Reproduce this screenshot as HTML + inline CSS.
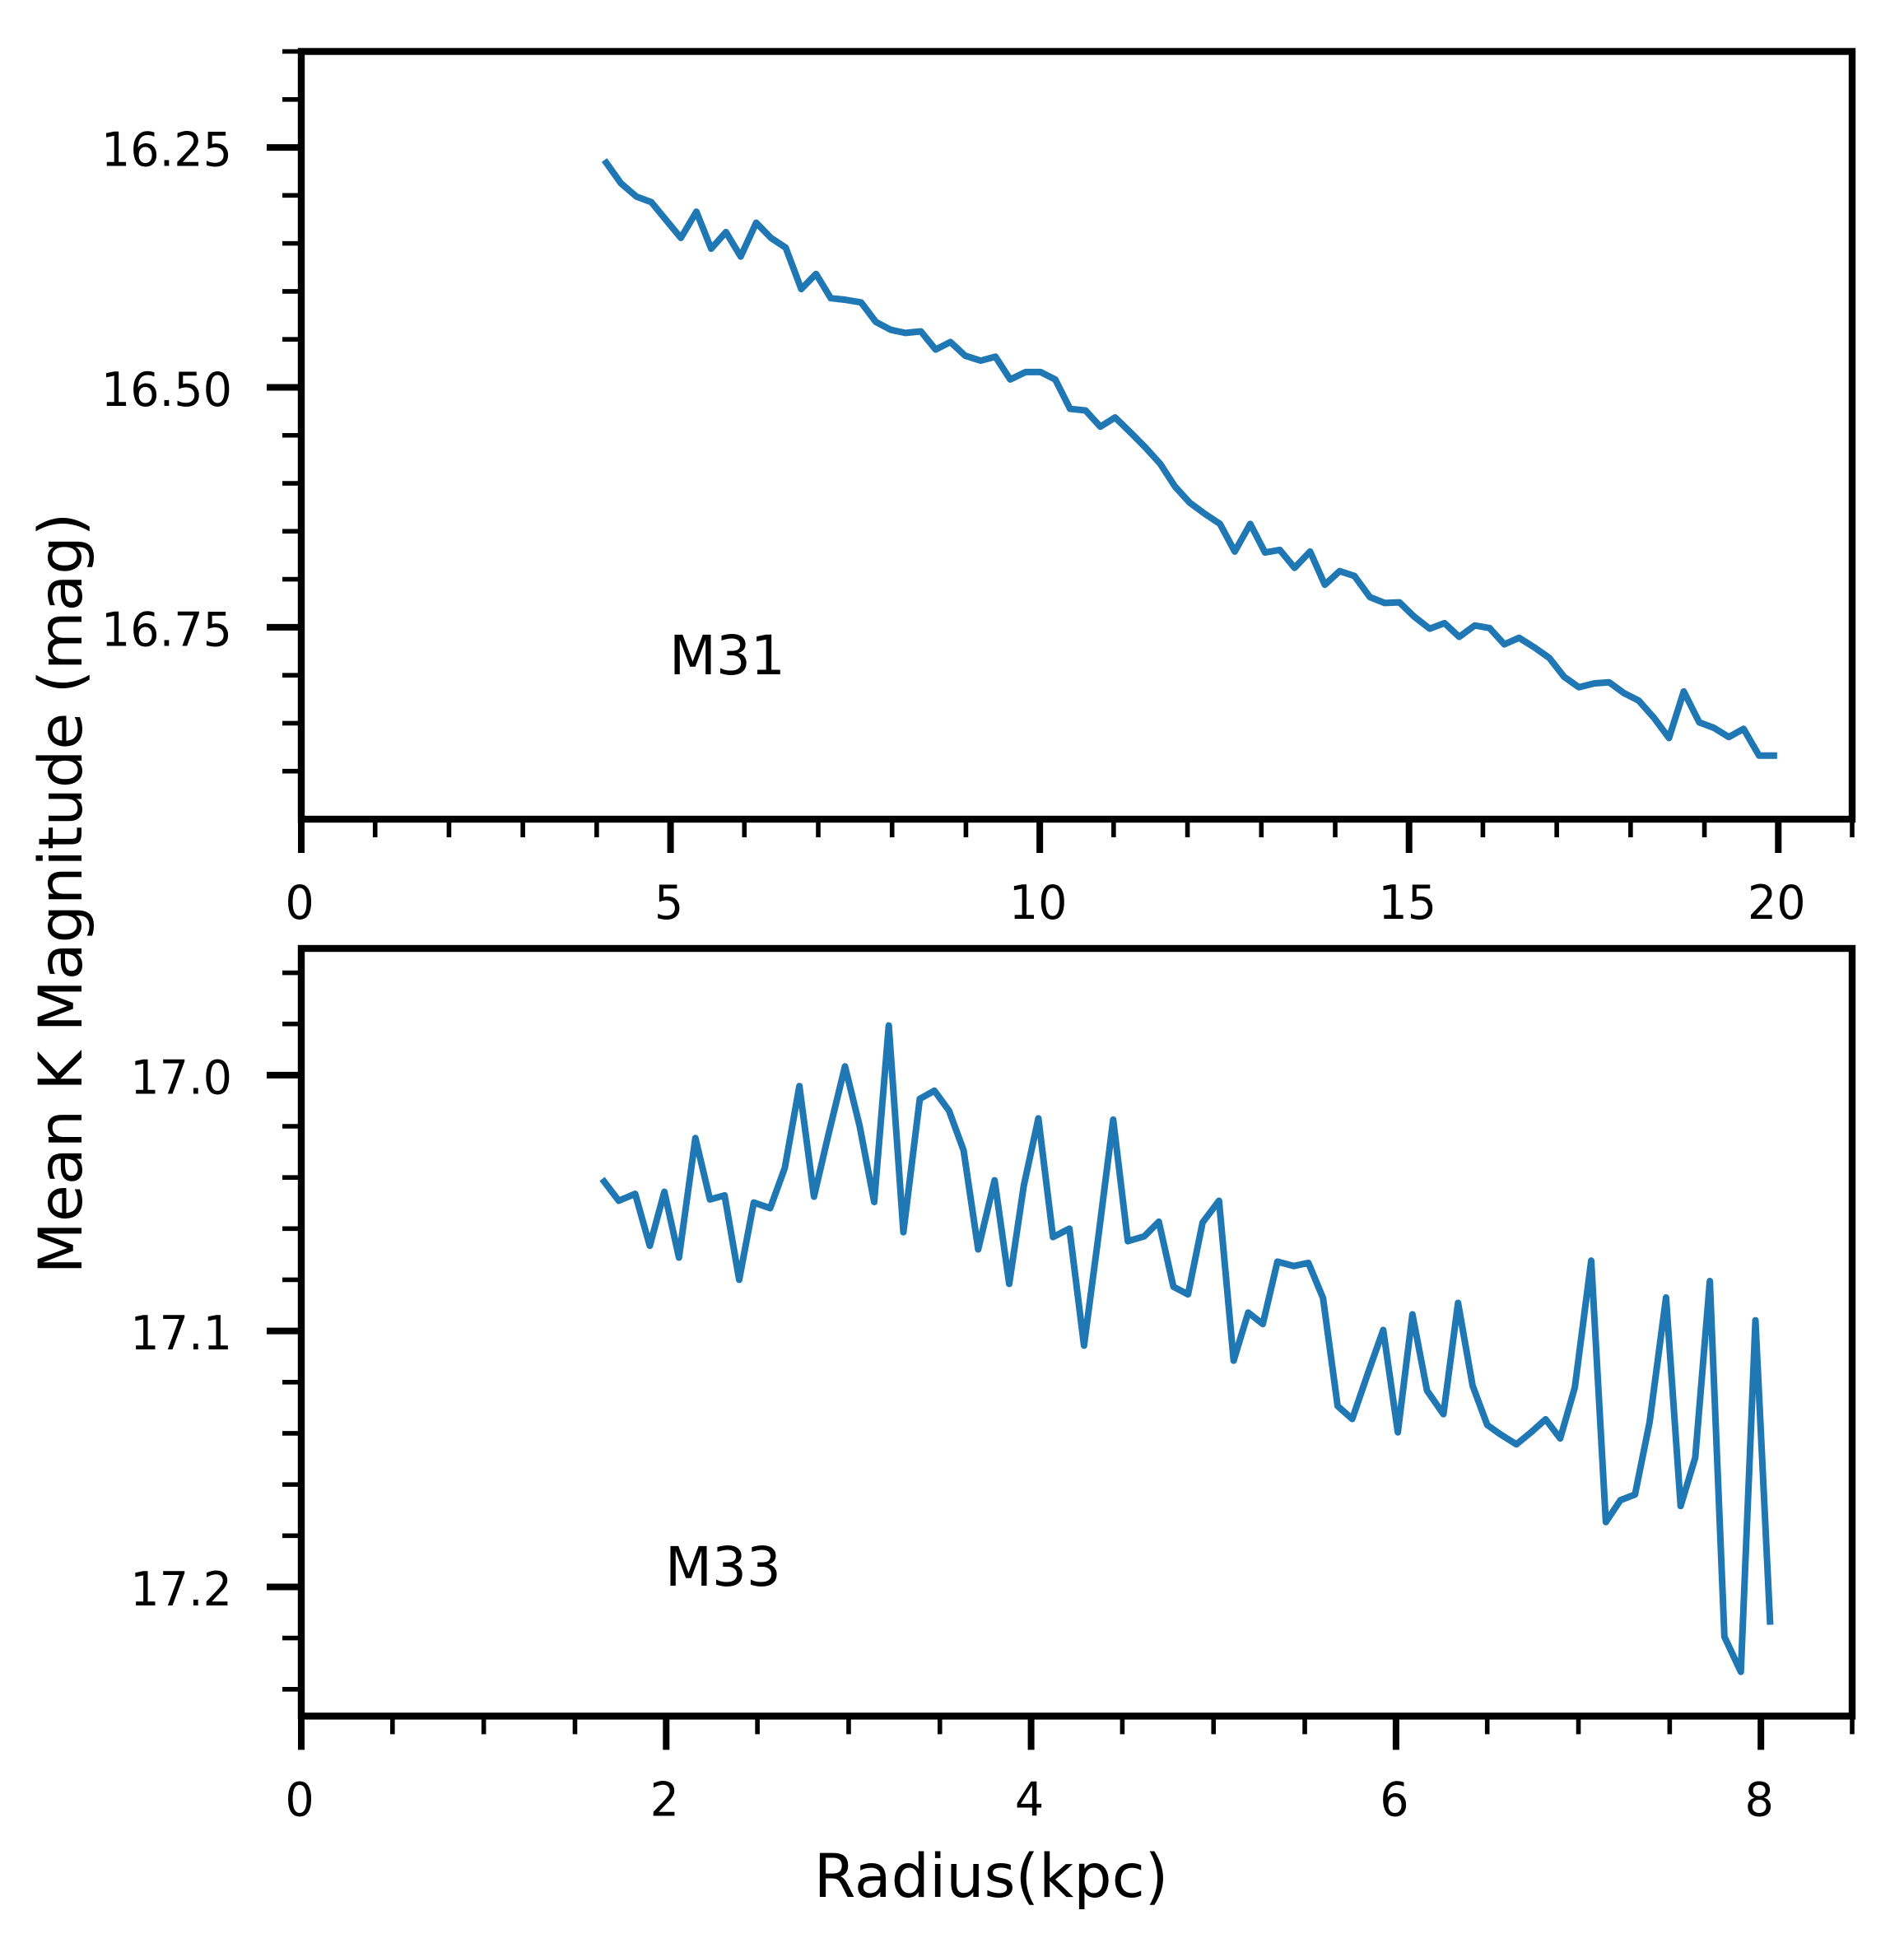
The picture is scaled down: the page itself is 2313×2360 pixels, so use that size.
<!DOCTYPE html>
<html lang="en">
<head>
<meta charset="utf-8">
<title>Mean K Magnitude vs Radius for M31 and M33</title>
<style>
  html, body { margin: 0; padding: 0; background: #ffffff; }
  svg { display: block; }
  text { font-family: "DejaVu Sans", "Liberation Sans", sans-serif; fill: #000000; }
</style>
</head>
<body>
<svg id="chart" xmlns="http://www.w3.org/2000/svg" width="2313" height="2360" viewBox="0 0 2313 2360">
  <rect x="0" y="0" width="2313" height="2360" fill="#ffffff"/>
  <g id="m31-panel"></g>
  <g id="m33-panel"></g>
  <text x="813" y="819" font-size="66">M31</text>
  <text x="808" y="1926" font-size="66">M33</text>
  <text x="99" y="1085" font-size="73.2" text-anchor="middle" transform="rotate(-90 99 1085)">Mean K Magnitude (mag)</text>
  <text x="1204" y="2304" font-size="73" text-anchor="middle">Radius(kpc)</text>
</svg>
<script>
// M31 data
const m31Radius = [4.13,4.33,4.54,4.74,4.94,5.14,5.35,5.55,5.75,5.95,
  6.16,6.36,6.56,6.77,6.97,7.17,7.37,7.58,7.78,7.98,
  8.18,8.39,8.59,8.79,8.99,9.20,9.40,9.60,9.81,10.01,
  10.21,10.41,10.62,10.82,11.02,11.22,11.43,11.63,11.83,12.03,
  12.24,12.44,12.64,12.85,13.05,13.25,13.45,13.66,13.86,14.06,
  14.26,14.47,14.67,14.87,15.07,15.28,15.48,15.68,15.89,16.09,
  16.29,16.49,16.70,16.90,17.10,17.30,17.51,17.71,17.91,18.11,
  18.32,18.52,18.72,18.93,19.13,19.33,19.53,19.74,19.94];
const m31Magnitude = [16.266,16.2875,16.3013,16.307,16.3257,16.3443,16.317,16.3555,16.3382,16.3637,
  16.3285,16.3443,16.3545,16.3976,16.3818,16.4071,16.4088,16.4115,16.4318,16.44,
  16.4433,16.4417,16.4606,16.4528,16.4671,16.4722,16.4681,16.4918,16.484,16.484,
  16.4918,16.5224,16.5241,16.541,16.5314,16.5463,16.5626,16.5796,16.6033,16.6202,
  16.6321,16.6423,16.6711,16.6423,16.6721,16.6694,16.6881,16.6711,16.7057,16.6915,
  16.6965,16.7186,16.7247,16.724,16.7389,16.7515,16.7457,16.76,16.7481,16.7508,
  16.7678,16.761,16.7711,16.782,16.8017,16.8125,16.8084,16.8074,16.8186,16.8264,
  16.8447,16.8654,16.8169,16.8491,16.8549,16.8644,16.8559,16.8837,16.8837];
const m31XMajor = [0,5,10,15,20];
const m31XMinor = [1,2,3,4,6,7,8,9,11,12,13,14,16,17,18,19,21];
const m31YMajor = [16.25,16.50,16.75];
const m31YMajorLabels = ["16.25","16.50","16.75"];
const m31YMinor = [16.15,16.20,16.30,16.35,16.40,16.45,16.55,16.60,16.65,16.70,16.80,16.85,16.90];

// M33 data
const m33Radius = [1.66,1.74,1.83,1.91,1.99,2.07,2.16,2.24,2.32,2.40,
  2.48,2.57,2.65,2.73,2.81,2.89,2.98,3.06,3.14,3.22,
  3.30,3.39,3.47,3.55,3.63,3.71,3.80,3.88,3.96,4.04,
  4.12,4.21,4.29,4.37,4.45,4.53,4.62,4.70,4.78,4.86,
  4.94,5.03,5.11,5.19,5.27,5.35,5.44,5.52,5.60,5.68,
  5.76,5.85,5.93,6.01,6.09,6.17,6.26,6.34,6.42,6.50,
  6.57,6.66,6.74,6.82,6.90,6.98,7.07,7.15,7.23,7.31,
  7.39,7.48,7.56,7.64,7.72,7.80,7.89,7.97,8.05];
const m33Magnitude = [17.0416,17.0491,17.0464,17.0667,17.0456,17.0713,17.0246,17.0486,17.047,17.08,
  17.0498,17.052,17.0363,17.0043,17.0475,17.023,16.9966,17.0198,17.0496,16.9806,
  17.0614,17.0093,17.0061,17.0139,17.0294,17.0681,17.0411,17.0816,17.0432,17.0169,
  17.0633,17.06,17.1057,17.0624,17.0174,17.0649,17.063,17.0573,17.0827,17.0857,
  17.0576,17.0491,17.1116,17.0928,17.0973,17.0729,17.0746,17.0734,17.0871,17.1293,
  17.1344,17.1157,17.0996,17.1396,17.0935,17.1233,17.1325,17.089,17.1214,17.1367,
  17.1403,17.1443,17.1396,17.1345,17.142,17.1221,17.0725,17.1747,17.1661,17.1639,
  17.1356,17.0869,17.1684,17.1495,17.0805,17.2195,17.2332,17.0958,17.2135];
const m33XMajor = [0,2,4,6,8];
const m33XMinor = [0.5,1,1.5,2.5,3,3.5,4.5,5,5.5,6.5,7,7.5,8.5];
const m33YMajor = [17.0,17.1,17.2];
const m33YMajorLabels = ["17.0","17.1","17.2"];
const m33YMinor = [16.96,16.98,17.02,17.04,17.06,17.08,17.12,17.14,17.16,17.18,17.22,17.24];

const SVG_NS = "http://www.w3.org/2000/svg";
const plotLeft = 366;
const plotRight = 2250;

function makeTick(parent, x1, y1, x2, y2, width, name) {
  const el = document.createElementNS(SVG_NS, "line");
  el.setAttribute("x1", x1);
  el.setAttribute("y1", y1);
  el.setAttribute("x2", x2);
  el.setAttribute("y2", y2);
  el.setAttribute("stroke", "#000000");
  el.setAttribute("stroke-width", width);
  
  
  parent.appendChild(el);
}

function makeLabel(parent, x, y, text, anchor, name) {
  const el = document.createElementNS(SVG_NS, "text");
  el.setAttribute("x", 0);
  el.setAttribute("y", 0);
  el.setAttribute("transform", "translate(" + x + " " + y + ") scale(0.975 1)");
  el.setAttribute("font-size", "57");
  el.setAttribute("text-anchor", anchor);
  el.textContent = text;
  
  
  parent.appendChild(el);
}

function drawPanel(parent, prefix, top, bottom, xMax, yTop, yBottom, radius, magnitude,
                   xMajor, xMinor, yMajor, yMajorLabels, yMinor) {
  const xScale = v => plotLeft + (v / xMax) * (plotRight - plotLeft);
  const yScale = v => top + ((v - yTop) / (yBottom - yTop)) * (bottom - top);

  // data line
  const line = document.createElementNS(SVG_NS, "polyline");
  line.setAttribute("points", radius.map((r, i) => xScale(r).toFixed(2) + "," + yScale(magnitude[i]).toFixed(2)).join(" "));
  line.setAttribute("fill", "none");
  line.setAttribute("stroke", "#1f77b4");
  line.setAttribute("stroke-width", "8");
  line.setAttribute("stroke-linejoin", "round");
  line.setAttribute("stroke-linecap", "square");
  
  
  parent.appendChild(line);

  // frame
  const frame = document.createElementNS(SVG_NS, "rect");
  frame.setAttribute("x", plotLeft);
  frame.setAttribute("y", top);
  frame.setAttribute("width", plotRight - plotLeft);
  frame.setAttribute("height", bottom - top);
  frame.setAttribute("fill", "none");
  frame.setAttribute("stroke", "#000000");
  frame.setAttribute("stroke-width", "8.4");
  
  
  parent.appendChild(frame);

  // x ticks
  xMajor.forEach(v => {
    makeTick(parent, xScale(v), bottom, xScale(v), bottom + 41, 8, prefix + '-x-major-tick');
    makeLabel(parent, xScale(v) - 2, bottom + 121, String(v), "middle", prefix + '-x-tick-label');
  });
  xMinor.forEach(v => {
    makeTick(parent, xScale(v), bottom, xScale(v), bottom + 22, 5.6, prefix + '-x-minor-tick');
  });

  // y ticks
  yMajor.forEach((v, i) => {
    makeTick(parent, plotLeft - 42, yScale(v), plotLeft, yScale(v), 8, prefix + '-y-major-tick');
    makeLabel(parent, 282, yScale(v) + 22.5, yMajorLabels[i], "end", prefix + '-y-tick-label');
  });
  yMinor.forEach(v => {
    makeTick(parent, plotLeft - 23, yScale(v), plotLeft, yScale(v), 5.6, prefix + '-y-minor-tick');
  });
}

drawPanel(document.getElementById("m31-panel"), "m31", 62.5, 995, 21, 16.15, 16.95,
  m31Radius, m31Magnitude, m31XMajor, m31XMinor, m31YMajor, m31YMajorLabels, m31YMinor);
drawPanel(document.getElementById("m33-panel"), "m33", 1152, 2084.4, 8.5, 16.9505, 17.2505,
  m33Radius, m33Magnitude, m33XMajor, m33XMinor, m33YMajor, m33YMajorLabels, m33YMinor);
</script>
</body>
</html>
